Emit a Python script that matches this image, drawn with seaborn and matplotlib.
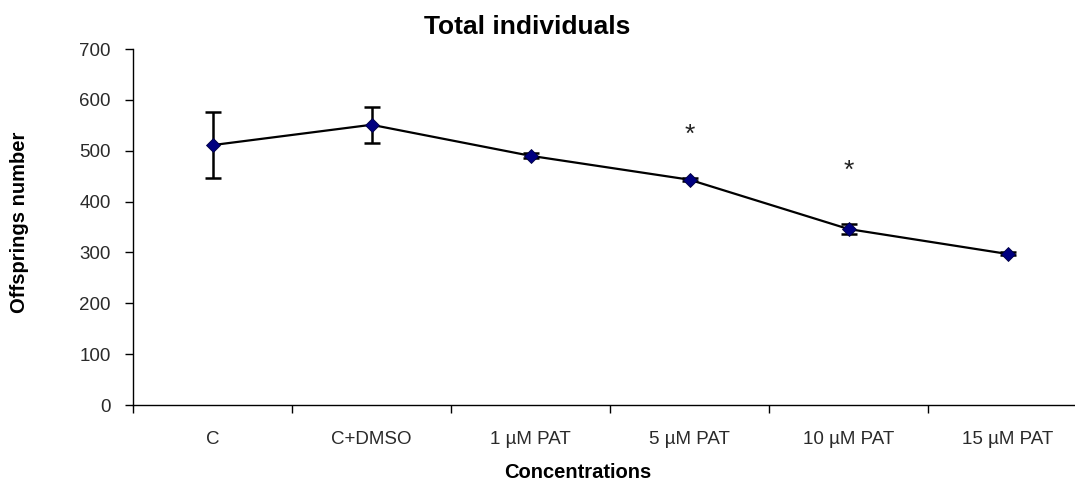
import numpy as np
import pandas as pd
import matplotlib.pyplot as plt
import seaborn as sns
from matplotlib.ticker import FixedLocator, NullFormatter

sns.set_style("white")
plt.rcParams['font.family'] = ['Liberation Sans', 'DejaVu Sans']

categories = ['C', 'C+DMSO', '1 µM PAT', '5 µM PAT', '10 µM PAT', '15 µM PAT']
offsprings = [511, 551, 490, 443, 346, 297]
errors = [65, 35, 5, 3, 10, 3]
significant = [False, False, False, True, True, False]
star_heights = [0, 0, 0, 532, 461, 0]

df = pd.DataFrame({'pos': np.arange(len(categories)), 'cat': categories,
                   'n': offsprings, 'err': errors})

fig = plt.figure(figsize=(10.75, 4.82), dpi=100)
ax = fig.add_axes([133 / 1075, 77 / 482, 954 / 1075, 356 / 482])

ax.errorbar(df['pos'], df['n'], yerr=df['err'], fmt='none', ecolor='black',
            elinewidth=1.8, capsize=6, capthick=1.8, zorder=2)
sns.lineplot(data=df, x='pos', y='n', ax=ax, color='black', linewidth=1.6,
             marker='D', markersize=7, markerfacecolor='#000080',
             markeredgecolor='#000040', markeredgewidth=0.6, zorder=3)

for i, sig in enumerate(significant):
    if sig:
        ax.text(i, star_heights[i], '*', ha='center', va='center', fontsize=19,
                color='#222222')

ax.set_xlim(-0.5, len(categories) - 0.5)
ax.set_ylim(0, 700)
ax.set_yticks(np.arange(0, 701, 100))
ax.xaxis.set_major_locator(FixedLocator(np.arange(-0.5, len(categories), 1.0)))
ax.xaxis.set_major_formatter(NullFormatter())
ax.set_xticks(np.arange(len(categories)), minor=True)
ax.set_xticklabels(categories, minor=True)
ax.tick_params(axis='x', which='major', direction='out', length=6, width=1, color='black', bottom=True)
ax.tick_params(axis='x', which='minor', length=0, pad=19, labelsize=13.5, labelcolor='#2a2a2a')
ax.tick_params(axis='y', direction='out', length=6, width=1, color='black', left=True,
               pad=10, labelsize=13.5, labelcolor='#2a2a2a')

for side in ['top', 'right']:
    ax.spines[side].set_visible(False)
for side in ['left', 'bottom']:
    ax.spines[side].set_color('black')
    ax.spines[side].set_linewidth(1)

ax.set_xlabel('')
ax.set_ylabel('')
fig.text(527 / 1075, 1 - 27 / 482, 'Total individuals', ha='center', va='center',
         fontsize=19, fontweight='bold', color='black')
fig.text(578 / 1075, 1 - 472 / 482, 'Concentrations', ha='center', va='center',
         fontsize=14.5, fontweight='bold', color='black')
fig.text(20 / 1075, 1 - 222 / 482, 'Offsprings number', ha='center', va='center',
         rotation=90, fontsize=14.5, fontweight='bold', color='black')

fig.savefig('out.png', dpi=100)
